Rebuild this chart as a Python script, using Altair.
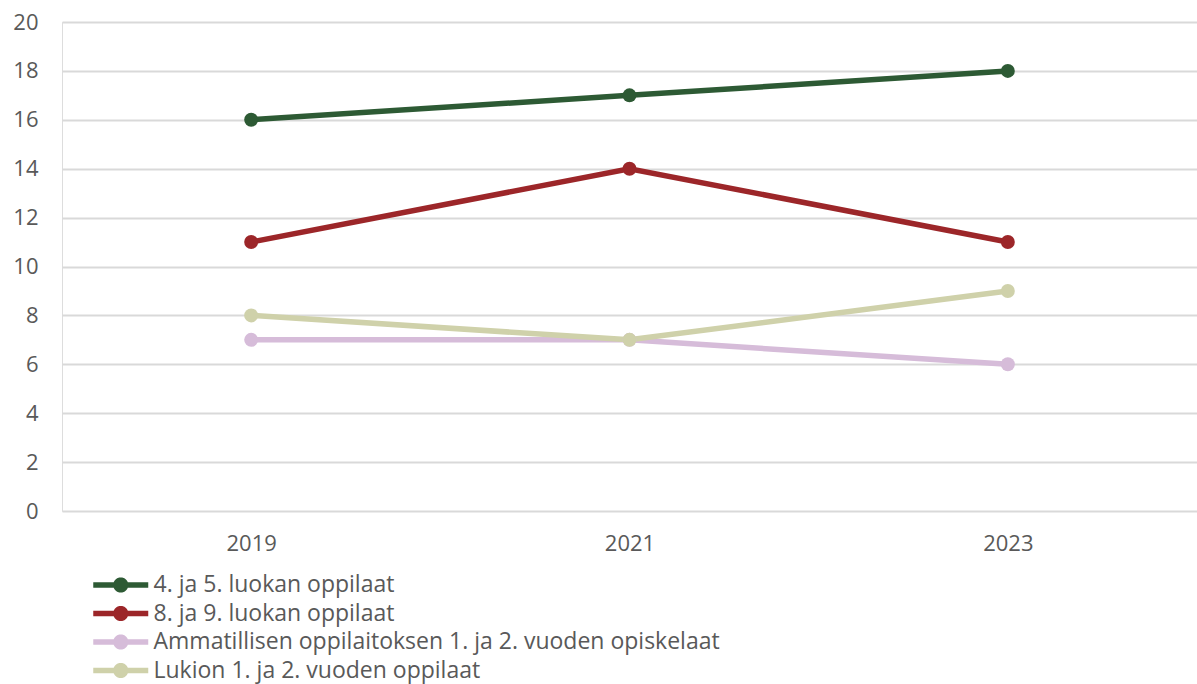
import math
import altair as alt
import pandas as pd

years = ["2019", "2021", "2023"]
series_names = [
    "4. ja 5. luokan oppilaat",
    "8. ja 9. luokan oppilaat",
    "Ammatillisen oppilaitoksen 1. ja 2. vuoden opiskelaat",
    "Lukion 1. ja 2. vuoden oppilaat",
]
grade_4_5 = [16, 17, 18]
grade_8_9 = [11, 14, 11]
vocational = [7, 7, 6]
upper_secondary = [8, 7, 9]
colors = ["#2d5a34", "#9c2629", "#d6bcd9", "#cfd1aa"]

rows = []
for name, values in zip(series_names, [grade_4_5, grade_8_9, vocational, upper_secondary]):
    for y, v in zip(years, values):
        rows.append({"Vuosi": y, "Ryhmä": name, "Arvo": v})
df = pd.DataFrame(rows)

FONT = "Open Sans"
TXT = "#595959"


def line_with_dot(x0=-3.0, x1=1.0, cx=-1.0, half=0.2, r=0.55, steps=24):
    """Outline of a thick stroke with a round dot on it, in symbol units."""
    a = math.asin(half / r)
    pts = [(x0, -half)]
    # upper arc, left to right over the top
    for i in range(steps + 1):
        t = math.pi + a + (math.pi - 2 * a) * i / steps
        pts.append((cx + r * math.cos(t), r * math.sin(t)))
    pts += [(x1, -half), (x1, half)]
    # lower arc, right to left under the bottom
    for i in range(steps + 1):
        t = a + (math.pi - 2 * a) * i / steps
        pts.append((cx + r * math.cos(t), r * math.sin(t)))
    pts.append((x0, half))
    return "M " + " L ".join(f"{px:.3f} {py:.3f}" for px, py in pts) + " Z"


color = alt.Color(
    "Ryhmä:N",
    scale=alt.Scale(domain=series_names, range=colors),
    sort=series_names,
    legend=alt.Legend(
        title=None,
        orient="none",
        legendX=58.5,
        legendY=549,
        direction="vertical",
        symbolType=line_with_dot(),
        symbolSize=756,
        symbolStrokeWidth=0,
        symbolOpacity=1,
        labelFont=FONT,
        labelFontSize=23,
        labelColor=TXT,
        labelLimit=800,
        labelOffset=5,
        rowPadding=2.5,
    ),
)

x = alt.X(
    "Vuosi:N",
    sort=years,
    scale=alt.Scale(type="point", padding=0.5),
    axis=alt.Axis(
        title=None, labelAngle=0, domain=False, ticks=False, grid=False,
        labelFont=FONT, labelFontSize=22, labelColor=TXT, labelPadding=22,
    ),
)
y = alt.Y(
    "Arvo:Q",
    scale=alt.Scale(domain=[0, 20], nice=False),
    axis=alt.Axis(
        title=None, values=list(range(0, 21, 2)), domain=False, ticks=False,
        gridColor="#d9d9d9", gridWidth=2,
        labelFont=FONT, labelFontSize=22, labelColor=TXT, labelPadding=24,
    ),
)

lines = alt.Chart(df).mark_line(strokeWidth=5.5).encode(x=x, y=y, color=color, order=alt.Order("Vuosi:N"))
dots = alt.Chart(df).mark_circle(size=195, opacity=1).encode(x=x, y=y, color=color)

chart = (
    alt.layer(lines, dots)
    .properties(
        width=1135,
        height=489,
        autosize=alt.AutoSizeParams(type="none"),
        padding={"left": 62, "top": 22, "right": 0, "bottom": 173},
    )
    .configure_view(stroke=None)
    .configure(background="white")
)

chart.save("out.html", embed_options={"renderer": "svg", "actions": False})
